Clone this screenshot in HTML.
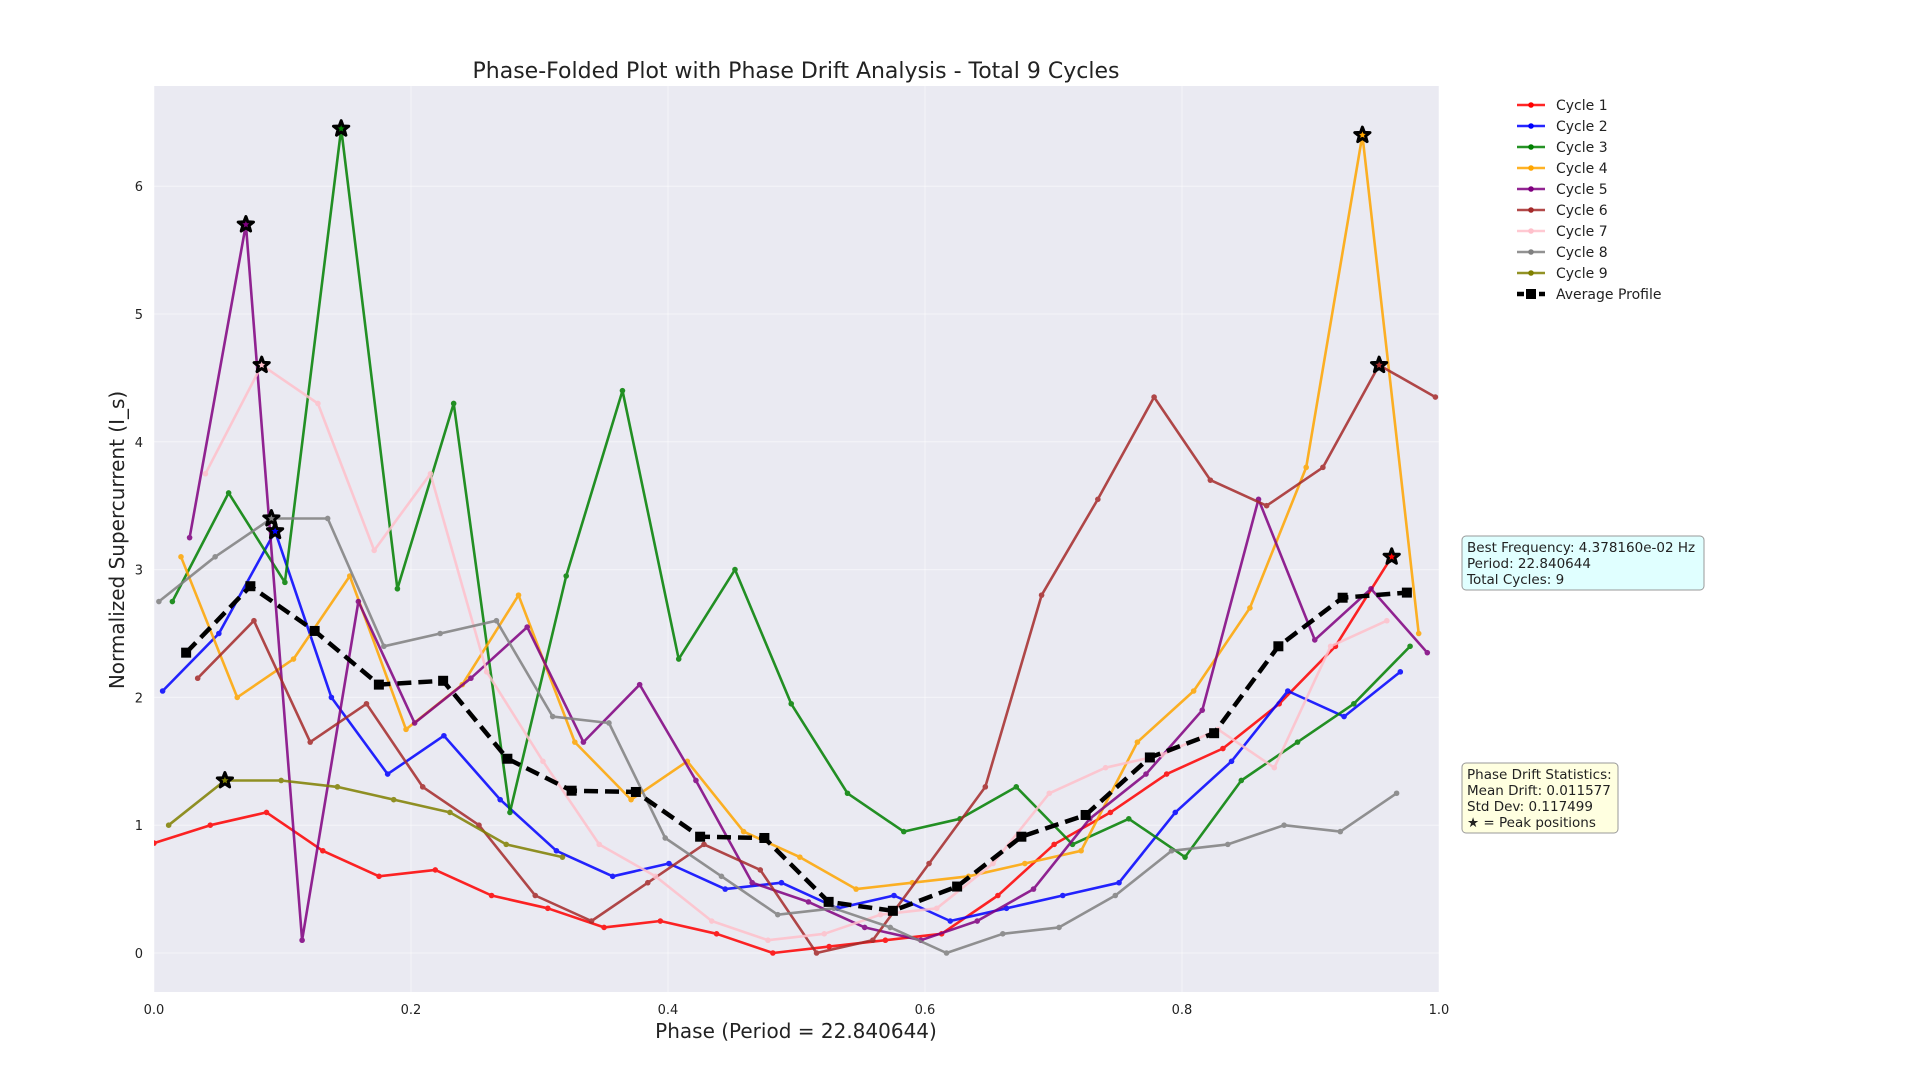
<!DOCTYPE html>
<html><head><meta charset="utf-8"><title>Phase-Folded Plot</title>
<style>html,body{margin:0;padding:0;background:#fff;}svg{display:block;font-family:"DejaVu Sans","Liberation Sans",sans-serif;}</style>
</head><body>
<svg id="chart" width="1920" height="1080" viewBox="0 0 1920 1080" xmlns="http://www.w3.org/2000/svg">
<rect x="0" y="0" width="1920" height="1080" fill="#ffffff"/>
<text x="796" y="78" font-size="22" text-anchor="middle" fill="#222">Phase-Folded Plot with Phase Drift Analysis - Total 9 Cycles</text>
<rect x="154" y="86" width="1285" height="906" fill="#eaeaf2"/>
<g id="grid"></g><g id="ticks"></g>
<defs><clipPath id="clip"><rect x="154" y="86" width="1285" height="906"/></clipPath></defs>
<g id="series" clip-path="url(#clip)"></g>
<g id="stars"></g>
<text x="796" y="1038" font-size="20" text-anchor="middle" fill="#222">Phase (Period = 22.840644)</text>
<text transform="translate(124,540) rotate(-90)" font-size="20" text-anchor="middle" fill="#222">Normalized Supercurrent (I_s)</text>
<g id="legend"></g>
<g>
<rect x="1462" y="536" width="242" height="54" rx="4" fill="#e0ffff" stroke="#999" stroke-width="1"/>
<text x="1467" y="552" font-size="13.5" fill="#222">Best Frequency: 4.378160e-02 Hz</text>
<text x="1467" y="568" font-size="13.5" fill="#222">Period: 22.840644</text>
<text x="1467" y="584" font-size="13.5" fill="#222">Total Cycles: 9</text>
</g>
<g>
<rect x="1462" y="763" width="156" height="70" rx="4" fill="#ffffe0" stroke="#999" stroke-width="1"/>
<text x="1467" y="779" font-size="13.5" fill="#222">Phase Drift Statistics:</text>
<text x="1467" y="795" font-size="13.5" fill="#222">Mean Drift: 0.011577</text>
<text x="1467" y="811" font-size="13.5" fill="#222">Std Dev: 0.117499</text>
<text x="1467" y="827" font-size="13.5" fill="#222">★ = Peak positions</text>
</g>
</svg>
<script>
const cycleNames=["Cycle 1","Cycle 2","Cycle 3","Cycle 4","Cycle 5","Cycle 6","Cycle 7","Cycle 8","Cycle 9"];
const cycleColors=["#ff0000","#0000ff","#008000","#ffa500","#800080","#a52a2a","#ffc0cb","#808080","#808000"];
const cycleOffsets=[0,0.0067,0.0143,0.021,0.0277,0.034,0.040,0.0038,0.0114];
const period=22.840644;
const c1=[0.86,1.0,1.1,0.8,0.6,0.65,0.45,0.35,0.2,0.25,0.15,0.0,0.05,0.1,0.15,0.45,0.85,1.1,1.4,1.6,1.95,2.4,3.1];
const c2=[2.05,2.5,3.3,2.0,1.4,1.7,1.2,0.8,0.6,0.7,0.5,0.55,0.35,0.45,0.25,0.35,0.45,0.55,1.1,1.5,2.05,1.85,2.2];
const c3=[2.75,3.6,2.9,6.45,2.85,4.3,1.1,2.95,4.4,2.3,3.0,1.95,1.25,0.95,1.05,1.3,0.85,1.05,0.75,1.35,1.65,1.95,2.4];
const c4=[3.1,2.0,2.3,2.95,1.75,2.1,2.8,1.65,1.2,1.5,0.95,0.75,0.5,0.55,0.6,0.7,0.8,1.65,2.05,2.7,3.8,6.4,2.5];
const c5=[3.25,5.7,0.1,2.75,1.8,2.15,2.55,1.65,2.1,1.35,0.55,0.4,0.2,0.1,0.25,0.5,1.05,1.4,1.9,3.55,2.45,2.85,2.35];
const c6=[2.15,2.6,1.65,1.95,1.3,1.0,0.45,0.25,0.55,0.85,0.65,0.0,0.1,0.7,1.3,2.8,3.55,4.35,3.7,3.5,3.8,4.6,4.35];
const c7=[3.75,4.6,4.3,3.15,3.75,2.2,1.5,0.85,0.6,0.25,0.1,0.15,0.3,0.35,0.7,1.25,1.45,1.55,1.75,1.45,2.4,2.6];
const c8=[2.75,3.1,3.4,3.4,2.4,2.5,2.6,1.85,1.8,0.9,0.6,0.3,0.35,0.2,0.0,0.15,0.2,0.45,0.8,0.85,1.0,0.95,1.25];
const c9=[1.0,1.35,1.35,1.3,1.2,1.1,0.85,0.75];
const cycleValues=[c1,c2,c3,c4,c5,c6,c7,c8,c9];
const avgPhase=[0.025,0.075,0.125,0.175,0.225,0.275,0.325,0.375,0.425,0.475,0.525,0.575,0.625,0.675,0.725,0.775,0.825,0.875,0.925,0.975];
const avgValues=[2.35,2.87,2.52,2.1,2.13,1.52,1.27,1.26,0.91,0.9,0.4,0.33,0.52,0.91,1.08,1.53,1.72,2.4,2.78,2.82];
const xTicks=[0,0.2,0.4,0.6,0.8,1.0];
const xTickLabels=["0.0","0.2","0.4","0.6","0.8","1.0"];
const yTicks=[0,1,2,3,4,5,6];

const NS="http://www.w3.org/2000/svg";
const X0=154,X1=1439,YTOP=86,YBOT=992;
function xs(p){return X0+p*(X1-X0);}
function ys(v){return 953-v*127.8;}
function mk(tag,attrs,parent){const e=document.createElementNS(NS,tag);for(const k in attrs)e.setAttribute(k,attrs[k]);parent.appendChild(e);return e;}
const grid=document.getElementById('grid'),ticks=document.getElementById('ticks'),series=document.getElementById('series'),stars=document.getElementById('stars'),legend=document.getElementById('legend');
xTicks.forEach((t,i)=>{
  const l=mk('line',{x1:xs(t),x2:xs(t),y1:YTOP,y2:YBOT,stroke:'#ffffff','stroke-width':1,opacity:0.5},grid);
  
  
  const tx=mk('text',{x:xs(t),y:1014,'font-size':13,'text-anchor':'middle',fill:'#222'},ticks);
  tx.textContent=xTickLabels[i];
  
  
});
yTicks.forEach(t=>{
  const l=mk('line',{x1:X0,x2:X1,y1:ys(t),y2:ys(t),stroke:'#ffffff','stroke-width':1,opacity:0.5},grid);
  
  
  const tx=mk('text',{x:143,y:ys(t)+5,'font-size':13,'text-anchor':'end',fill:'#222'},ticks);
  tx.textContent=String(t);
  
  
});
function starPath(cx,cy,r){let d='';for(let i=0;i<10;i++){const a=-Math.PI/2+i*Math.PI/5;const rr=i%2?r*0.42:r;d+=(i?'L':'M')+(cx+rr*Math.cos(a)).toFixed(1)+','+(cy+rr*Math.sin(a)).toFixed(1);}return d+'Z';}
cycleValues.forEach((vals,ci)=>{
  const g=mk('g',{opacity:0.85},series);
  
  
  const pts=vals.map((v,i)=>[xs(cycleOffsets[ci]+i/period),ys(v)]);
  const pl=mk('polyline',{points:pts.map(p=>p[0].toFixed(1)+','+p[1].toFixed(1)).join(' '),fill:'none',stroke:cycleColors[ci],'stroke-width':2.6,'stroke-linejoin':'round'},g);
  
  
  pts.forEach(p=>{
    const c=mk('circle',{cx:p[0],cy:p[1],r:2.8,fill:cycleColors[ci]},g);
    
    
  });
  let mi=0;vals.forEach((v,i)=>{if(v>vals[mi])mi=i;});
  const s=mk('path',{d:starPath(xs(cycleOffsets[ci]+mi/period),ys(vals[mi]),8),fill:cycleColors[ci],stroke:'#000','stroke-width':3,'stroke-linejoin':'round'},stars);
  
  
});
const ag=mk('g',{},series);


const apts=avgValues.map((v,i)=>[xs(avgPhase[i]),ys(v)]);
const apl=mk('polyline',{points:apts.map(p=>p[0].toFixed(1)+','+p[1].toFixed(1)).join(' '),fill:'none',stroke:'#000','stroke-width':4.5,'stroke-dasharray':'14,7'},ag);


apts.forEach(p=>{
  const r=mk('rect',{x:p[0]-5,y:p[1]-5,width:10,height:10,fill:'#000'},ag);
  
  
});
const legNames=cycleNames.concat(["Average Profile"]);
legNames.forEach((n,i)=>{
  const y=105+i*21;
  const e=mk('g',{},legend);
  
  
  if(i<9){
    mk('line',{x1:1517,x2:1545,y1:y,y2:y,stroke:cycleColors[i],'stroke-width':2.6,opacity:0.85},e);
    mk('circle',{cx:1531,cy:y,r:2.8,fill:cycleColors[i]},e);
  }else{
    mk('line',{x1:1517,x2:1545,y1:y,y2:y,stroke:'#000','stroke-width':4.5,'stroke-dasharray':'7,4'},e);
    mk('rect',{x:1526,y:y-5,width:10,height:10,fill:'#000'},e);
  }
  const t=mk('text',{x:1556,y:y+5,'font-size':14,fill:'#222'},e);
  t.textContent=n;
});
</script>
</body></html>
